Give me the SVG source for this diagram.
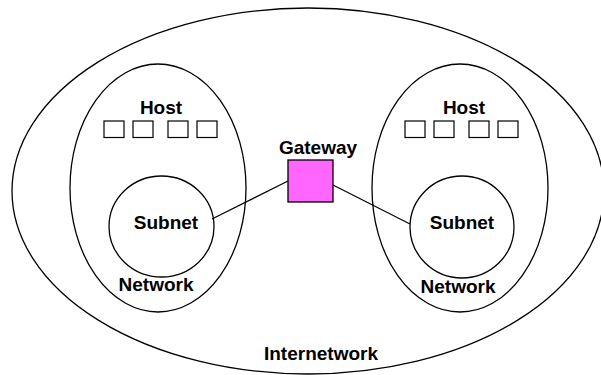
<svg xmlns="http://www.w3.org/2000/svg" width="601" height="375" viewBox="0 0 601 375">
<style>
.o{fill:none;stroke:#000;stroke-width:1.3}
.h{fill:#fff;stroke:#000;stroke-width:1.2}
.t{font-family:"Liberation Sans",Arial,sans-serif;font-weight:bold;font-size:19px;text-anchor:middle;fill:#000}
.c{stroke:#000;stroke-width:1.2;fill:none}
</style>
<rect width="601" height="375" fill="#fff"/>
<g id="internetwork">
<ellipse class="o" cx="308" cy="191" rx="296" ry="183"/>
<text class="t" x="321" y="360">Internetwork</text>
</g>
<g id="network-left">
<ellipse class="o" cx="158" cy="188" rx="88" ry="124"/>
<text class="t" x="156" y="291">Network</text>
</g>
<g id="network-right">
<ellipse class="o" cx="460" cy="188" rx="88" ry="124"/>
<text class="t" x="458" y="293">Network</text>
</g>
<g id="hosts-left">
<text class="t" x="161" y="114">Host</text>
<rect class="h" x="104" y="121" width="20" height="16.5"/>
<rect class="h" x="133" y="121" width="20" height="16.5"/>
<rect class="h" x="168" y="121" width="20" height="16.5"/>
<rect class="h" x="197" y="121" width="20" height="16.5"/>
</g>
<g id="hosts-right">
<text class="t" x="464" y="114">Host</text>
<rect class="h" x="405" y="121" width="20" height="16.5"/>
<rect class="h" x="434" y="121" width="20" height="16.5"/>
<rect class="h" x="469" y="121" width="20" height="16.5"/>
<rect class="h" x="498" y="121" width="20" height="16.5"/>
</g>
<g id="subnet-left">
<ellipse class="o" cx="161.5" cy="226.5" rx="52.5" ry="50.5"/>
<text class="t" x="166" y="229">Subnet</text>
</g>
<g id="subnet-right">
<ellipse class="o" cx="462" cy="227" rx="52" ry="51"/>
<text class="t" x="462" y="229">Subnet</text>
</g>
<g id="gateway">
<text class="t" x="318" y="154">Gateway</text>
<rect x="288" y="160" width="45" height="42" fill="#FF66FF" stroke="#000" stroke-width="1.3"/>
</g>
<g id="connectors">
<line class="c" x1="212" y1="219" x2="288" y2="181"/>
<line class="c" x1="333" y1="185" x2="410" y2="224"/>
</g>
</svg>
